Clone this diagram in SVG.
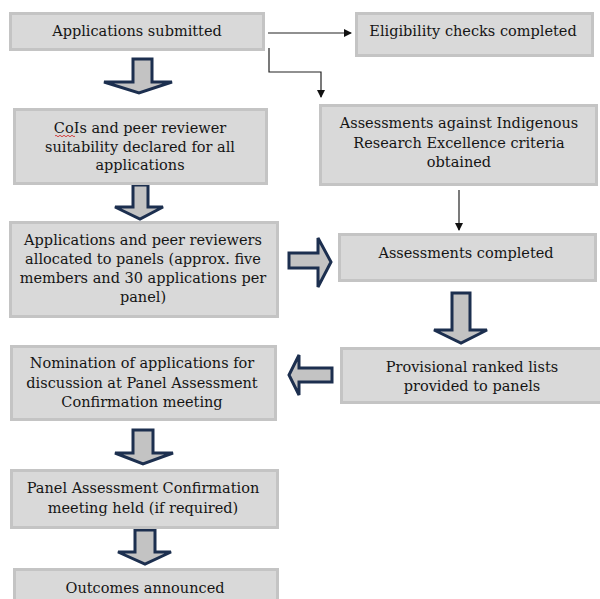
<svg xmlns="http://www.w3.org/2000/svg" width="600" height="599" viewBox="0 0 600 599">
<defs>
<style>
.box{fill:#d9d9d9;stroke:#c4c4c4;stroke-width:3}
.t{font-family:"DejaVu Serif",serif;font-size:14.5px;fill:#151515;text-anchor:middle}
.blk{fill:#c3c3c3;stroke:#1c2f4f;stroke-width:3;stroke-linejoin:miter}
.ln{fill:none;stroke:#222;stroke-width:1.2}
</style>
<marker id="ah" markerWidth="8" markerHeight="8" refX="7" refY="4" orient="auto" markerUnits="userSpaceOnUse">
<path d="M0,0 L8,4 L0,8 Z" fill="#111"/>
</marker>
</defs>
<rect width="600" height="599" fill="#fff"/>

<g id="connectors">
<path class="ln" d="M268,33 H351" marker-end="url(#ah)"/>
<path class="ln" d="M269,48 V72 H321 V97" marker-end="url(#ah)"/>
<path class="ln" d="M459,190 V230" marker-end="url(#ah)"/>
<path class="blk" d="M133,59 L152,59 L152,82 L172,82 L139,93 L104,82 L133,82 Z"/>
<path class="blk" d="M133,185 L148,185 L148,207 L163,207 L140,219 L115,207 L133,207 Z"/>
<path class="blk" d="M289,253 L318,253 L318,238 L331,262 L318,287 L318,268 L289,268 Z"/>
<path class="blk" d="M452,293 L470,293 L470,330 L487,330 L461,343 L434,330 L452,330 Z"/>
<path class="blk" d="M332,368 L299,368 L299,355 L289,375 L299,395 L299,382 L332,382 Z"/>
<path class="blk" d="M133,430 L153,430 L153,453 L173,453 L143,464 L115,453 L133,453 Z"/>
<path class="blk" d="M135,530 L155,530 L155,552 L171,552 L145,564 L118,552 L135,552 Z"/>
</g>

<g id="n1">
<rect class="box" x="10.5" y="13.5" width="253" height="36"/>
<text class="t" x="137" y="36">Applications submitted</text>
</g>
<g id="n2">
<rect class="box" x="356.5" y="13.5" width="236" height="42"/>
<text class="t" x="473" y="36">Eligibility checks completed</text>
</g>
<g id="n3">
<rect class="box" x="320.5" y="105.5" width="276" height="79"/>
<text class="t" x="459" y="128">Assessments against Indigenous</text>
<text class="t" x="459" y="148">Research Excellence criteria</text>
<text class="t" x="459" y="167">obtained</text>
</g>
<g id="n4">
<rect class="box" x="14.5" y="109.5" width="252" height="74"/>
<text class="t" x="140" y="133">CoIs and peer reviewer</text>
<text class="t" x="140" y="152">suitability declared for all</text>
<text class="t" x="140" y="170">applications</text>
<path d="M55,136 q1,-1.5 2,0 t2,0 t2,0 t2,0 t2,0 t2,0 t2,0 t2,0 t2,0 t2,0" fill="none" stroke="#d03030" stroke-width="0.9"/>
</g>
<g id="n5">
<rect class="box" x="10.5" y="222.5" width="267" height="94"/>
<text class="t" x="143" y="245">Applications and peer reviewers</text>
<text class="t" x="143" y="264">allocated to panels (approx. five</text>
<text class="t" x="143" y="283">members and 30 applications per</text>
<text class="t" x="143" y="302">panel)</text>
</g>
<g id="n6">
<rect class="box" x="339.5" y="234.5" width="256" height="46"/>
<text class="t" x="466" y="258">Assessments completed</text>
</g>
<g id="n7">
<rect class="box" x="341.5" y="348.5" width="260" height="54"/>
<text class="t" x="472" y="372">Provisional ranked lists</text>
<text class="t" x="472" y="391">provided to panels</text>
</g>
<g id="n8">
<rect class="box" x="11.5" y="346.5" width="264" height="73"/>
<text class="t" x="142" y="368">Nomination of applications for</text>
<text class="t" x="142" y="388">discussion at Panel Assessment</text>
<text class="t" x="142" y="407">Confirmation meeting</text>
</g>
<g id="n9">
<rect class="box" x="11.5" y="470.5" width="266" height="57"/>
<text class="t" x="143" y="493">Panel Assessment Confirmation</text>
<text class="t" x="143" y="513">meeting held (if required)</text>
</g>
<g id="n10">
<rect class="box" x="14.5" y="569.5" width="263" height="40"/>
<text class="t" x="145" y="593">Outcomes announced</text>
</g>
</svg>
